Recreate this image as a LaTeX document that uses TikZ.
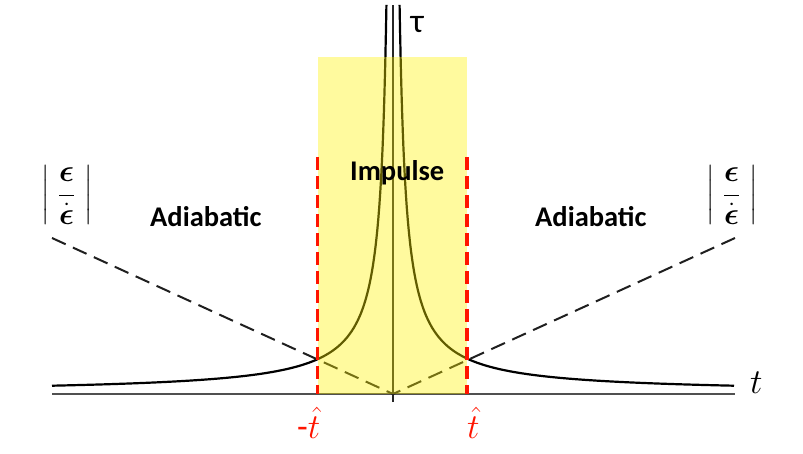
\RequirePackage{fix-cm}
\documentclass[tikz,border=0pt]{standalone}
\usepackage{amsmath}
\usepackage{fontspec}
\setmainfont{Carlito}
\definecolor{axisgray}{RGB}{80,80,80}
\definecolor{hotred}{RGB}{255,20,0}
\newcommand{\epsratio}{$\left|\;\dfrac{\boldsymbol{\epsilon}}{\dot{\boldsymbol{\epsilon}}}\;\right|$}
\begin{document}
\begin{tikzpicture}[x=1pt,y=-1pt,
  lbl/.style={inner sep=0pt, anchor=base west},
  boldlbl/.style={lbl, font=\fontsize{28.5}{30}\bfseries},
  fraclbl/.style={inner sep=0pt, font=\fontsize{31}{33}\selectfont},
  curve/.style={line width=2.2pt, black},
  guide/.style={line width=2pt, black!88, dash pattern=on 15pt off 8pt},
  redline/.style={line width=3.5pt, hotred, dash pattern=on 13pt off 6pt},
]
\useasboundingbox (0,0) rectangle (803,453);
\coordinate (AL) at (52,394);
\coordinate (AR) at (735,394);
\coordinate (O) at (393,394);
\coordinate (VT) at (393,5);
\coordinate (VB) at (393,402);
\coordinate (DL) at (52,238);
\coordinate (DR) at (735,238);
% t axis
\draw[axisgray, line width=2.6pt] (AL) -- (AR);
% tau curve
\draw[curve] plot[domain=0:1, samples=160, variable=\u]
  ({393-341*exp(-3.945*\u)}, {394-7.528*exp(3.945*\u)-0.77});
\draw[curve] plot[domain=0:1, samples=160, variable=\u]
  ({393+341*exp(-3.945*\u)}, {394-7.528*exp(3.945*\u)-0.77});
% |eps/epsdot| lines
\draw[guide] (DL) -- (O) -- (DR);
% vertical axis
\draw[black!85, line width=1.5pt] (VB) -- (VT);
% impulse region
\fill[yellow, fill opacity=0.38] (317.5,57) rectangle (467,394);
\coordinate (RLt) at (317.5,157);
\coordinate (RLb) at (317.5,394);
\coordinate (RRt) at (467,157);
\coordinate (RRb) at (467,394);
\draw[redline] (RLt) -- (RLb);
\draw[redline] (RRt) -- (RRb);
% labels
\node[boldlbl] (adl) at (150,226.7) {Adiabatic};
\node[boldlbl] (adr) at (535,226.7) {Adiabatic};
\node[boldlbl] (imp) at (350,180.7) {Impulse};
\node[lbl, font=\fontsize{34}{36}\selectfont] (tau) at (410.5,32.7) {τ};
\node[lbl, font=\fontsize{35}{37}\selectfont] (tlab) at (750,393) {$t$};
\node[lbl, hotred, font=\fontsize{35}{37}\selectfont] (tml) at (297,438) {-$\hat{t}$};
\node[lbl, hotred, font=\fontsize{35}{37}\selectfont] (tpl) at (467,438) {$\hat{t}$};
\node[fraclbl] (fl) at (66.7,195) {\epsratio};
\node[fraclbl] (fr) at (731.7,195) {\epsratio};
\end{tikzpicture}
\end{document}
